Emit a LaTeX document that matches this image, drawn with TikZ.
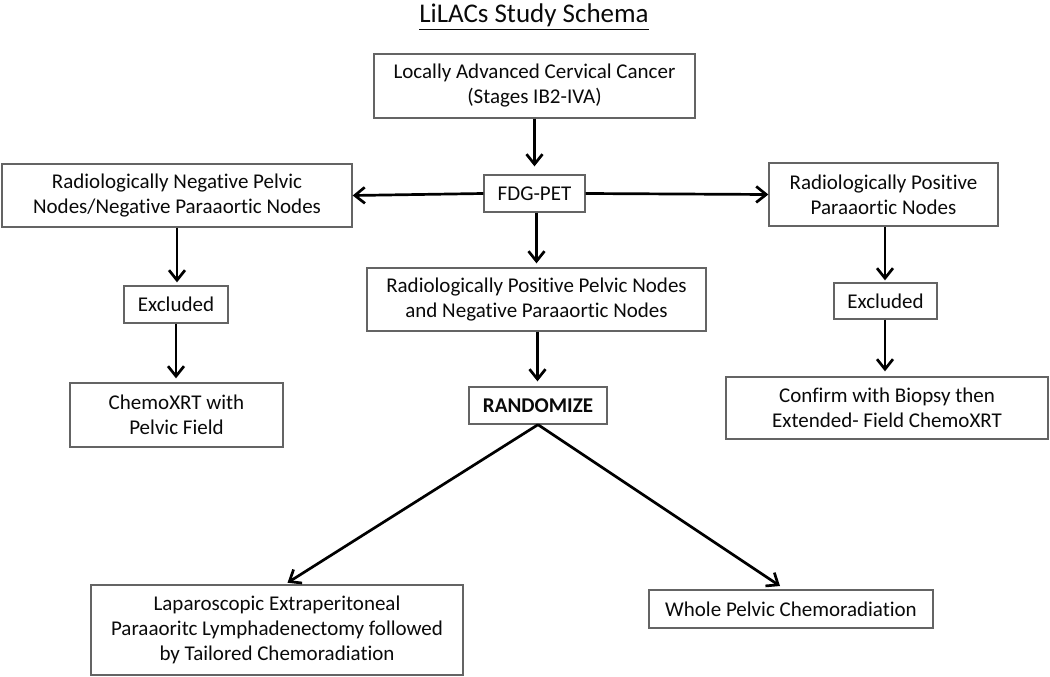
\documentclass[tikz,border=0pt]{standalone}
\usepackage{fontspec}
\setmainfont{Carlito}[Ligatures=NoCommon]
\usetikzlibrary{arrows.meta}
\definecolor{bordergray}{RGB}{100,100,100}
\definecolor{inkblack}{RGB}{10,10,10}
\begin{document}
\begin{tikzpicture}[x=1pt,y=-1pt,
  box/.style={draw=bordergray, line width=1.3pt, fill=white, inner sep=0pt,
    align=center, text=inkblack, font=\fontsize{21}{25}\selectfont},
  flow/.style={draw=black, line width=2.7pt,
    -{Straight Barb[length=10pt,width=16pt,line width=2.7pt]}}]
\useasboundingbox (0,0) rectangle (1050,677);

\node[text=inkblack, font=\fontsize{27}{32}\selectfont, anchor=base] (title) at (534,23) {\underline{LiLACs Study Schema}};

\node[box, minimum width=321pt, minimum height=64pt] (lacc) at (534.5,86) {Locally Advanced Cervical Cancer\\(Stages IB2-IVA)};
\node[box, minimum width=101pt, minimum height=37pt] (fdg) at (534.5,193.5) {FDG-PET};
\node[box, minimum width=350pt, minimum height=63pt] (neg) at (177,195.5) {Radiologically Negative Pelvic\\Nodes/Negative Paraaortic Nodes};
\node[box, minimum width=229pt, minimum height=63pt] (pospa) at (883.5,194.5) {Radiologically Positive\\Paraaortic Nodes};
\node[box, minimum width=339pt, minimum height=63pt] (pospel) at (536.5,299.5) {Radiologically Positive Pelvic Nodes\\and Negative Paraaortic Nodes};
\node[box, minimum width=138pt, minimum height=37pt, font=\fontsize{21}{25}\selectfont\bfseries] (rand) at (538,405.5) {RANDOMIZE};
\node[box, minimum width=104pt, minimum height=37pt] (exclL) at (176,304.5) {Excluded};
\node[box, minimum width=213pt, minimum height=64pt] (chemoL) at (176.5,415) {ChemoXRT with\\Pelvic Field};
\node[box, minimum width=103pt, minimum height=36pt] (exclR) at (885.5,301) {Excluded};
\node[box, minimum width=322pt, minimum height=62pt] (confirm) at (887,408) {Confirm with Biopsy then\\Extended- Field ChemoXRT};
\node[box, minimum width=372pt, minimum height=90pt] (lap) at (277,630) {Laparoscopic Extraperitoneal\\Paraaoritc Lymphadenectomy followed\\by Tailored Chemoradiation};
\node[box, minimum width=284pt, minimum height=38pt] (whole) at (791,609) {Whole Pelvic Chemoradiation};

\draw[flow, shorten >=8pt] (lacc.south) -- (fdg.north);
\draw[flow] (fdg.west) -- (neg.east);
\draw[flow] (fdg.east) -- (pospa.west);
\draw[flow, shorten >=4pt] ([xshift=2pt]fdg.south) -- ([xshift=2pt]fdg.south |- pospel.north);
\draw[flow, shorten >=5pt] ([xshift=1pt]pospel.south) -- ([xshift=1pt]pospel.south |- rand.north);
\draw[flow, shorten >=3pt] (rand.south) -- ([xshift=8pt]lap.north);
\draw[flow, shorten >=6pt] (rand.south) -- ([xshift=-6pt]whole.north);
\draw[flow, shorten >=3pt] (neg.south) -- (neg.south |- exclL.north);
\draw[flow, shorten >=4pt] (exclL.south) -- (exclL.south |- chemoL.north);
\draw[flow, shorten >=2pt] ([xshift=1.5pt]pospa.south) -- ([xshift=1.5pt]pospa.south |- exclR.north);
\draw[flow, shorten >=5pt] ([xshift=-0.5pt]exclR.south) -- ([xshift=-0.5pt]exclR.south |- confirm.north);
\end{tikzpicture}
\end{document}
